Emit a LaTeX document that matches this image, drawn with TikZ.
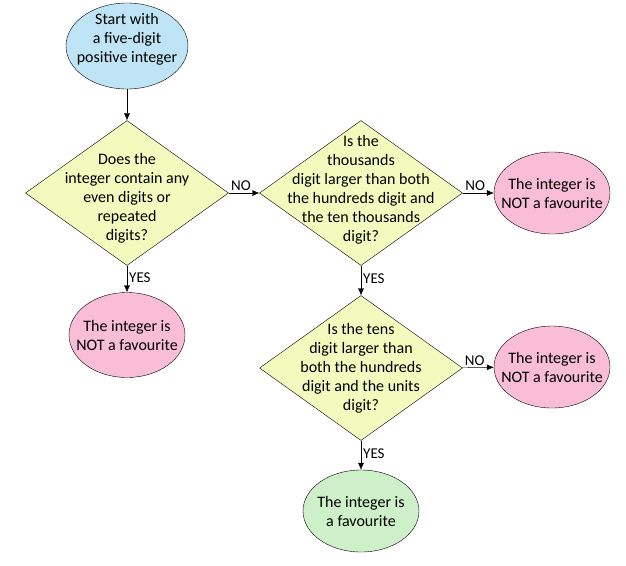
\documentclass[tikz,border=0pt]{standalone}
\usepackage{fontspec}
\setmainfont{Carlito}
\usetikzlibrary{shapes.geometric,arrows.meta}

\definecolor{startblue}{RGB}{190,228,245}
\definecolor{askyellow}{RGB}{242,250,190}
\definecolor{notpink}{RGB}{249,189,215}
\definecolor{favgreen}{RGB}{205,240,200}

\tikzset{
  oval/.style={ellipse, draw, thin, minimum width=116pt, minimum height=82pt,
    inner sep=-14pt, align=center, font=\fontsize{16}{19}\selectfont},
  ask/.style={diamond, draw, thin, fill=askyellow, aspect=1.4,
    minimum width=203pt, minimum height=145pt, inner sep=-28pt,
    align=center, font=\fontsize{16}{19}\selectfont},
  arr/.style={thin, -{Latex[length=7pt,width=6pt]}},
  answer/.style={font=\fontsize{15}{17}\selectfont, inner sep=2pt}
}

\begin{document}
\begin{tikzpicture}[x=1pt,y=-1pt]
\useasboundingbox (0,0) rectangle (626,565);

% start and the three questions
\node[oval, fill=startblue, minimum width=122pt, minimum height=86pt] (start) at (127,46)
  {Start with\\a five-digit\\positive integer\\[-2pt]};
\node[ask] (evens) at (127,193)
  {\\[2pt]Does the\\integer contain any\\even digits or\\repeated\\digits?};
\node[ask] (thousands) at (361,193)
  {Is the\\thousands\\digit larger than both\\the hundreds digit and\\the ten thousands\\digit?\\[-10pt]};
\node[ask] (tens) at (361,368)
  {Is the tens\\digit larger than\\both the hundreds\\digit and the units\\digit?};

% outcomes
\node[oval, fill=notpink, minimum height=85pt] (notA) at (127,335) {The integer is\\NOT a favourite};
\node[oval, fill=notpink] (notB) at (552,193) {The integer is\\NOT a favourite};
\node[oval, fill=notpink] (notC) at (552,367) {The integer is\\NOT a favourite};
\node[oval, fill=favgreen] (fav) at (361,511) {The integer is\\a favourite};

% connectors
\draw[arr] (start) -- (evens);
\draw[arr] (evens) -- node[answer, above, pos=0.4] {NO} (thousands);
\draw[arr] (evens) -- node[answer, right, pos=0.45] {YES} (notA);
\draw[arr] (thousands) -- node[answer, above, pos=0.4] {NO} (notB);
\draw[arr] (thousands) -- node[answer, right, pos=0.45] {YES} (tens);
\draw[arr] (tens) -- node[answer, above, pos=0.4] {NO} (notC);
\draw[arr] (tens) -- node[answer, right, pos=0.45] {YES} (fav);
\end{tikzpicture}
\end{document}
